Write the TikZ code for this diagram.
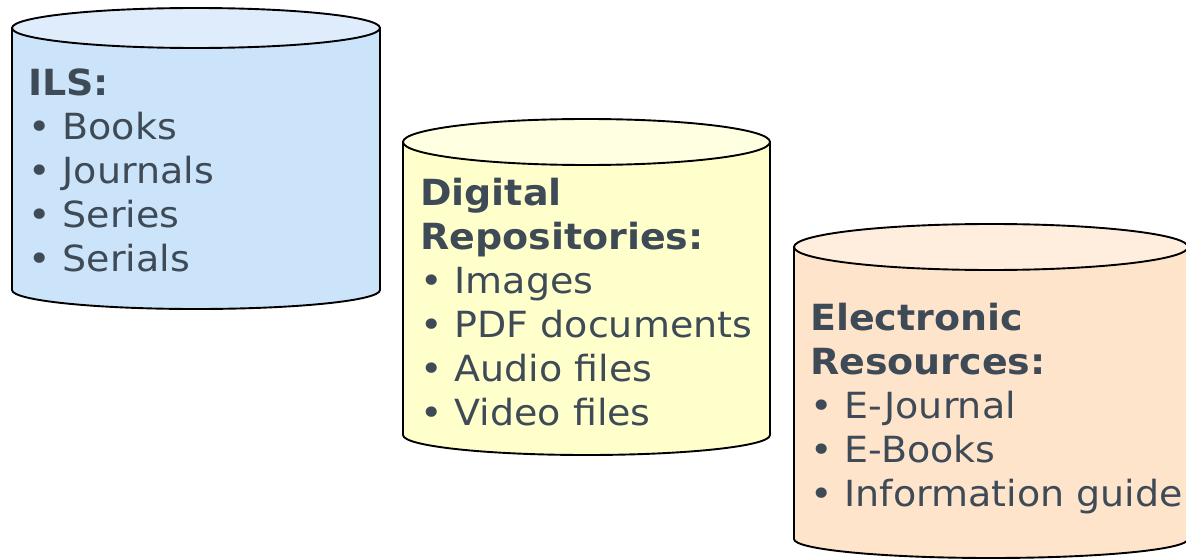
\documentclass[tikz,border=0pt]{standalone}
\usepackage{fontspec}
\setmainfont{DejaVu Sans}[FakeStretch=1.055]
\usepackage{xcolor}
\usepackage{tikz}
\definecolor{ink}{RGB}{62,75,87}
\definecolor{blueside}{RGB}{204,228,250}
\definecolor{bluetop}{RGB}{222,236,252}
\definecolor{yelside}{RGB}{255,255,204}
\definecolor{yeltop}{RGB}{255,255,226}
\definecolor{orgside}{RGB}{255,228,204}
\definecolor{orgtop}{RGB}{255,238,222}
\tikzset{can/.style={draw=black,line width=1.9pt},
  txt/.style={align=left,anchor=north west,inner sep=0pt,text=ink,font=\fontsize{36}{44}\selectfont}}

\begin{document}
\begin{tikzpicture}[x=1pt,y=1pt]
    \useasboundingbox (0,0) rectangle (1186,-559);

    % ILS
    \draw[can,fill=blueside] (12,-28) -- (12,-290) arc[start angle=180,end angle=360,x radius=184,y radius=19] -- (380,-28) -- cycle;
    \draw[can,fill=bluetop] (196,-28) ellipse[x radius=184,y radius=20];
    % digital repositories
    \draw[can,fill=yelside] (403,-142) -- (403,-435) arc[start angle=180,end angle=360,x radius=183.5,y radius=20] -- (770,-142) -- cycle;
    \draw[can,fill=yeltop] (586.5,-142) ellipse[x radius=183.5,y radius=23];
    % electronic resources
    \draw[can,fill=orgside] (794,-247) -- (794,-539) arc[start angle=180,end angle=360,x radius=197,y radius=19] -- (1188,-247) -- cycle;
    \draw[can,fill=orgtop] (991,-247) ellipse[x radius=197,y radius=23];

    \node[txt] (ils) at (28,-69) {\textbf{ILS:}\\• Books\\• Journals\\• Series\\• Serials};
    \node[txt] (dig) at (420,-178) {\textbf{Digital}\\\textbf{Repositories:}\\• Images\\• PDF documents\\• Audio files\\• Video files};
    \node[txt] (elec) at (810,-303) {\textbf{Electronic}\\\textbf{Resources:}\\• E-Journal\\• E-Books\\• Information guide};
\end{tikzpicture}
\end{document}
